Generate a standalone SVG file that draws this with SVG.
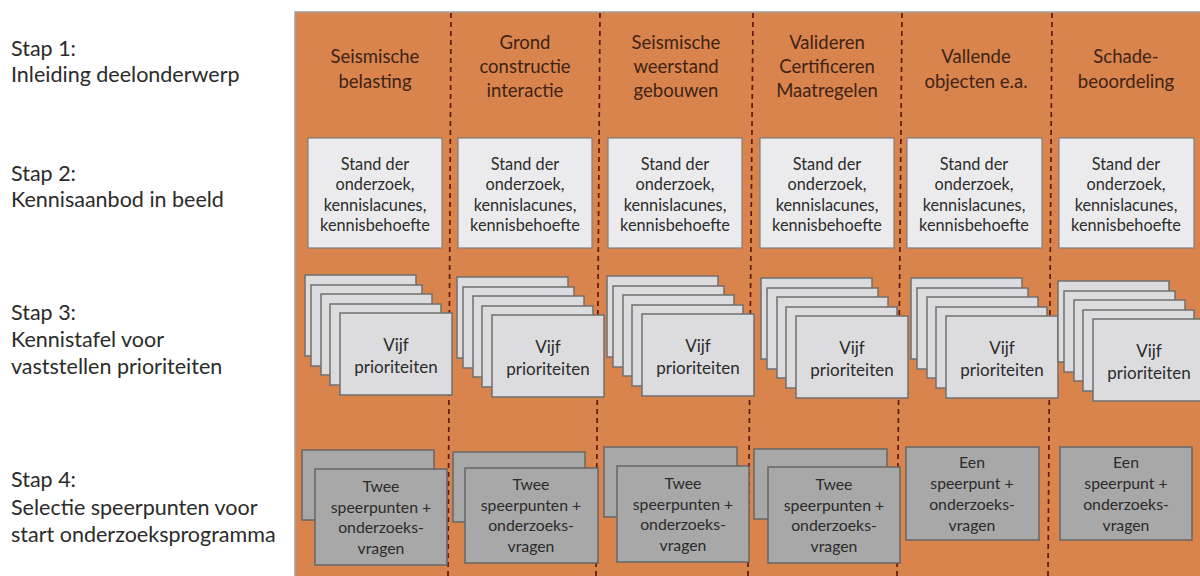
<svg xmlns="http://www.w3.org/2000/svg" width="1200" height="576" viewBox="0 0 1200 576">
<defs>
<style>
.lbl{font-family:Lato,"Open Sans","Liberation Sans",sans-serif;font-size:21.5px;fill:#2b2b2b}
.hdr{font-family:Lato,"Open Sans","Liberation Sans",sans-serif;font-size:18.5px;fill:#3e2316;text-anchor:middle}
.bt{font-family:Lato,"Open Sans","Liberation Sans",sans-serif;font-size:16.3px;fill:#2b2b2b;text-anchor:middle}
.st{font-family:Lato,"Open Sans","Liberation Sans",sans-serif;font-size:15.8px;fill:#2b2b2b;text-anchor:middle}
.vt{font-family:Lato,"Open Sans","Liberation Sans",sans-serif;font-size:17px;fill:#2b2b2b;text-anchor:middle}
.b2{fill:#ebebed;stroke:#7f7f7f;stroke-width:1.2}
.c3{fill:#dcdcdf;stroke:#6f6f6f;stroke-width:1.5}
.b4{fill:#a8a8a8;stroke:#666;stroke-width:1.5}
.div{stroke:#5e1a0c;stroke-width:1.7;stroke-dasharray:5 4;fill:none}
</style>
<g id="stack">
<rect class="c3" x="0" y="0" width="111" height="81"/>
<rect class="c3" x="6" y="10" width="111" height="81"/>
<rect class="c3" x="16" y="19" width="111" height="81"/>
<rect class="c3" x="25" y="29" width="111" height="81"/>
<rect class="c3" x="35" y="38" width="112" height="82"/>
</g>
</defs>
<rect width="1200" height="576" fill="#ffffff"/>
<rect x="295" y="12" width="915" height="570" fill="#d9844c" stroke="#a0a0a0" stroke-width="1.5"/>

<g id="connectors">
<line class="div" x1="451" y1="13" x2="448" y2="576"/>
<line class="div" x1="600" y1="13" x2="596" y2="576"/>
<line class="div" x1="753" y1="13" x2="748" y2="576"/>
<line class="div" x1="902" y1="13" x2="897" y2="576"/>
<line class="div" x1="1052" y1="13" x2="1048" y2="576"/>
</g>

<g id="steps">
<text class="lbl" x="11" y="56">Stap 1:</text>
<text class="lbl" x="11" y="82">Inleiding deelonderwerp</text>
<text class="lbl" x="11" y="181">Stap 2:</text>
<text class="lbl" x="11" y="207">Kennisaanbod in beeld</text>
<text class="lbl" x="11" y="320">Stap 3:</text>
<text class="lbl" x="11" y="347">Kennistafel voor</text>
<text class="lbl" x="11" y="374">vaststellen prioriteiten</text>
<text class="lbl" x="11" y="487">Stap 4:</text>
<text class="lbl" x="11" y="515">Selectie speerpunten voor</text>
<text class="lbl" x="11" y="542">start onderzoeksprogramma</text>
</g>

<g id="headers">
<text class="hdr" x="375" y="63">Seismische</text>
<text class="hdr" x="375" y="88">belasting</text>
<text class="hdr" x="525" y="49">Grond</text>
<text class="hdr" x="525" y="73">constructie</text>
<text class="hdr" x="525" y="97">interactie</text>
<text class="hdr" x="676" y="49">Seismische</text>
<text class="hdr" x="676" y="73">weerstand</text>
<text class="hdr" x="676" y="97">gebouwen</text>
<text class="hdr" x="827" y="49">Valideren</text>
<text class="hdr" x="827" y="73">Certificeren</text>
<text class="hdr" x="827" y="97">Maatregelen</text>
<text class="hdr" x="976" y="63">Vallende</text>
<text class="hdr" x="976" y="88">objecten e.a.</text>
<text class="hdr" x="1126" y="63">Schade-</text>
<text class="hdr" x="1126" y="88">beoordeling</text>
</g>

<g id="stap2">
<g id="s2c1"><rect class="b2" x="308" y="138" width="134" height="110"/>
<text class="bt" x="375" y="170">Stand der</text><text class="bt" x="375" y="190">onderzoek,</text><text class="bt" x="375" y="211">kennislacunes,</text><text class="bt" x="375" y="231">kennisbehoefte</text></g>
<g id="s2c2"><rect class="b2" x="458" y="138" width="134" height="110"/>
<text class="bt" x="525" y="170">Stand der</text><text class="bt" x="525" y="190">onderzoek,</text><text class="bt" x="525" y="211">kennislacunes,</text><text class="bt" x="525" y="231">kennisbehoefte</text></g>
<g id="s2c3"><rect class="b2" x="608" y="138" width="134" height="110"/>
<text class="bt" x="675" y="170">Stand der</text><text class="bt" x="675" y="190">onderzoek,</text><text class="bt" x="675" y="211">kennislacunes,</text><text class="bt" x="675" y="231">kennisbehoefte</text></g>
<g id="s2c4"><rect class="b2" x="760" y="138" width="134" height="110"/>
<text class="bt" x="827" y="170">Stand der</text><text class="bt" x="827" y="190">onderzoek,</text><text class="bt" x="827" y="211">kennislacunes,</text><text class="bt" x="827" y="231">kennisbehoefte</text></g>
<g id="s2c5"><rect class="b2" x="907" y="138" width="135" height="110"/>
<text class="bt" x="974" y="170">Stand der</text><text class="bt" x="974" y="190">onderzoek,</text><text class="bt" x="974" y="211">kennislacunes,</text><text class="bt" x="974" y="231">kennisbehoefte</text></g>
<g id="s2c6"><rect class="b2" x="1059" y="138" width="135" height="110"/>
<text class="bt" x="1126" y="170">Stand der</text><text class="bt" x="1126" y="190">onderzoek,</text><text class="bt" x="1126" y="211">kennislacunes,</text><text class="bt" x="1126" y="231">kennisbehoefte</text></g>
</g>

<g id="stap3">
<g id="s3c1"><use href="#stack" x="305" y="275"/><text class="vt" x="396" y="351">Vijf</text><text class="vt" x="396" y="373">prioriteiten</text></g>
<g id="s3c2"><use href="#stack" x="457" y="277"/><text class="vt" x="548" y="353">Vijf</text><text class="vt" x="548" y="375">prioriteiten</text></g>
<g id="s3c3"><use href="#stack" x="607" y="276"/><text class="vt" x="698" y="352">Vijf</text><text class="vt" x="698" y="374">prioriteiten</text></g>
<g id="s3c4"><use href="#stack" x="761" y="278"/><text class="vt" x="852" y="354">Vijf</text><text class="vt" x="852" y="376">prioriteiten</text></g>
<g id="s3c5"><use href="#stack" x="911" y="278"/><text class="vt" x="1002" y="354">Vijf</text><text class="vt" x="1002" y="376">prioriteiten</text></g>
<g id="s3c6"><use href="#stack" x="1058" y="281"/><text class="vt" x="1149" y="357">Vijf</text><text class="vt" x="1149" y="379">prioriteiten</text></g>
</g>

<g id="stap4">
<g id="s4c1"><rect class="b4" x="302" y="450" width="132" height="70"/><rect class="b4" x="315" y="469" width="132" height="96"/>
<text class="st" x="381" y="492">Twee</text><text class="st" x="381" y="513">speerpunten +</text><text class="st" x="381" y="533">onderzoeks-</text><text class="st" x="381" y="554">vragen</text></g>
<g id="s4c2"><rect class="b4" x="453" y="452" width="132" height="70"/><rect class="b4" x="465" y="468" width="133" height="95"/>
<text class="st" x="531" y="490">Twee</text><text class="st" x="531" y="511">speerpunten +</text><text class="st" x="531" y="531">onderzoeks-</text><text class="st" x="531" y="552">vragen</text></g>
<g id="s4c3"><rect class="b4" x="604" y="447" width="133" height="70"/><rect class="b4" x="617" y="466" width="132" height="96"/>
<text class="st" x="683" y="489">Twee</text><text class="st" x="683" y="510">speerpunten +</text><text class="st" x="683" y="530">onderzoeks-</text><text class="st" x="683" y="551">vragen</text></g>
<g id="s4c4"><rect class="b4" x="754" y="449" width="133" height="70"/><rect class="b4" x="768" y="467" width="132" height="96"/>
<text class="st" x="834" y="490">Twee</text><text class="st" x="834" y="511">speerpunten +</text><text class="st" x="834" y="531">onderzoeks-</text><text class="st" x="834" y="552">vragen</text></g>
<g id="s4c5"><rect class="b4" x="906" y="447" width="133" height="93"/>
<text class="st" x="972" y="468">Een</text><text class="st" x="972" y="489">speerpunt +</text><text class="st" x="972" y="510">onderzoeks-</text><text class="st" x="972" y="531">vragen</text></g>
<g id="s4c6"><rect class="b4" x="1060" y="447" width="132" height="93"/>
<text class="st" x="1126" y="468">Een</text><text class="st" x="1126" y="489">speerpunt +</text><text class="st" x="1126" y="510">onderzoeks-</text><text class="st" x="1126" y="531">vragen</text></g>
</g>
</svg>
